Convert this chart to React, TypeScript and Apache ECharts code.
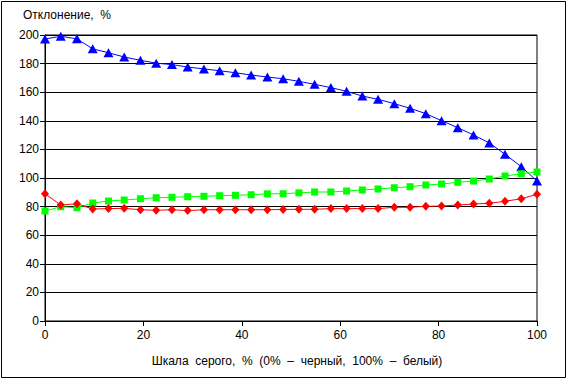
import React, { useEffect, useRef } from "react";
import * as echarts from "echarts";

const xValues = [0, 3.2, 6.5, 9.7, 12.9, 16.1, 19.4, 22.6, 25.8, 29.0, 32.3, 35.5, 38.7, 41.9, 45.2, 48.4, 51.6, 54.8, 58.1, 61.3, 64.5, 67.7, 71.0, 74.2, 77.4, 80.6, 83.9, 87.1, 90.3, 93.5, 96.8, 100];
const blueValues = [197.2, 199.1, 197.3, 190.3, 187.6, 184.6, 182.3, 180.3, 179.3, 177.6, 176.3, 175, 173.6, 172, 170.6, 169.4, 167.6, 165.5, 163.2, 160.6, 157.3, 155, 152, 148.7, 145, 140.1, 135.2, 130.1, 124.5, 116.6, 107.9, 97.9];
const greenValues = [76.9, 79.9, 79.2, 82.5, 83.9, 84.6, 85.5, 86.2, 86.5, 86.9, 87.2, 87.6, 87.9, 88.3, 88.9, 89.0, 89.6, 90.2, 90.2, 90.9, 91.6, 92.3, 93.2, 93.9, 95.1, 95.8, 97.0, 97.9, 99.3, 101.4, 103.0, 104.2];
const redValues = [89.0, 81.1, 82.0, 78.3, 78.6, 78.8, 77.8, 77.4, 77.8, 77.2, 77.8, 77.8, 77.8, 77.8, 77.8, 78.0, 78.1, 78.1, 78.6, 78.6, 78.6, 78.6, 79.5, 79.5, 80.2, 80.4, 81.1, 81.8, 82.3, 83.7, 85.5, 88.6];

const yTitle = "Отклонение,  %";
const xTitle = "Шкала  серого,  %  (0%  –  черный,  100%  –  белый)";

const FONT = "'Liberation Sans', Arial, sans-serif";

function pairs(ys: number[]) {
  return xValues.map((x, i) => [x, ys[i]]);
}

export default function App() {
  const ref = useRef<HTMLDivElement>(null);
  useEffect(() => {
    if (!ref.current) return;
    const chart = echarts.init(ref.current, null, { renderer: "svg" });
    chart.setOption({
      animation: false,
      backgroundColor: "#fff",
      textStyle: { fontFamily: FONT },
      grid: {
        left: 45,
        right: 31,
        top: 35,
        bottom: 58,
        show: true,
        borderColor: "#000",
        borderWidth: 1,
      },
      xAxis: {
        type: "value",
        min: 0,
        max: 100,
        interval: 20,
        axisLine: { show: true, lineStyle: { color: "#000", width: 1 } },
        axisTick: { show: true, length: 5, inside: false, lineStyle: { color: "#000" } },
        axisLabel: { color: "#000", fontSize: 12, fontFamily: FONT, margin: 8 },
        splitLine: { show: false },
      },
      yAxis: {
        type: "value",
        min: 0,
        max: 200,
        interval: 20,
        axisLine: { show: true, lineStyle: { color: "#000", width: 1 } },
        axisTick: { show: true, length: 5, inside: false, lineStyle: { color: "#000" } },
        axisLabel: { color: "#000", fontSize: 12, fontFamily: FONT, margin: 6 },
        splitLine: { show: true, lineStyle: { color: "#000", width: 1 } },
      },
      graphic: [
        {
          type: "rect",
          shape: { x: 1.5, y: 1.5, width: 564, height: 376 },
          style: { fill: "none", stroke: "#000", lineWidth: 1 },
          silent: true,
        },
        {
          type: "text",
          x: 23,
          y: 15,
          style: { text: yTitle, fill: "#000", font: `12px ${FONT}`, textVerticalAlign: "middle", textAlign: "left" },
        },
        {
          type: "text",
          x: 297,
          y: 361,
          style: { text: xTitle, fill: "#000", font: `12px ${FONT}`, textVerticalAlign: "middle", textAlign: "center" },
        },
      ],
      series: [
        {
          type: "line",
          data: pairs(blueValues),
          symbol: "triangle",
          symbolSize: [10, 9],
          itemStyle: { color: "#0000ff" },
          lineStyle: { color: "#0000ff", width: 1 },
        },
        {
          type: "line",
          data: pairs(greenValues),
          symbol: "rect",
          symbolSize: 7,
          itemStyle: { color: "#00ff00" },
          lineStyle: { color: "#00ff00", width: 1 },
        },
        {
          type: "line",
          data: pairs(redValues),
          symbol: "diamond",
          symbolSize: [8, 9],
          itemStyle: { color: "#ff0000" },
          lineStyle: { color: "#ff0000", width: 1 },
        },
      ],
    });
    return () => chart.dispose();
  }, []);
  return (
    <div
      ref={ref}
      style={{ position: "absolute", left: 0, top: 0, width: 568, height: 379 }}
    />
  );
}
